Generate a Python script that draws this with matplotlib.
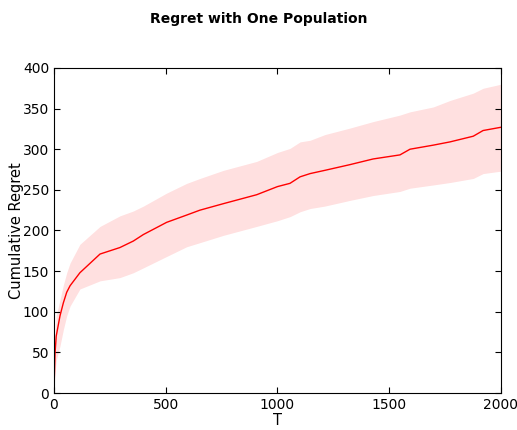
import matplotlib
matplotlib.use('Agg')
import matplotlib.pyplot as plt

# values
T = [0, 5, 10, 27, 42, 57, 72, 116, 206, 295, 355, 400, 504, 594, 653, 758, 907,
     1000, 1056, 1101, 1146, 1212, 1324, 1428, 1548, 1593, 1697, 1772, 1876, 1920, 2000]
regret_mean = [5, 50, 70, 95, 111, 124, 132, 148, 171, 179, 187, 195, 210, 219, 225, 233, 244,
               254, 258, 266, 270, 274, 281, 288, 293, 300, 305, 309, 316, 323, 327]
regret_low = [3, 25, 40, 58, 78, 95, 107, 128, 138, 142, 148, 154, 168, 180, 185, 194, 205,
              212, 217, 223, 227, 230, 237, 243, 248, 252, 256, 259, 264, 270, 273]
regret_high = [8, 70, 95, 115, 133, 148, 160, 183, 205, 218, 224, 230, 246, 258, 264, 274, 285,
               296, 301, 309, 311, 318, 326, 334, 342, 346, 352, 360, 369, 375, 380]

plt.figure(figsize=(5.17, 4.3), dpi=100)
ax = plt.axes([0.1044, 0.086, 0.8646, 0.756])
ax.fill_between(T, regret_low, regret_high, color='#ff0000', alpha=0.12, linewidth=0)
ax.plot(T, regret_mean, color='red', linewidth=1)

ax.set_xlim(0, 2000)
ax.set_ylim(0, 400)
ax.set_xticks([0, 500, 1000, 1500, 2000])
ax.set_yticks(range(0, 401, 50))
ax.tick_params(direction='in', top=True, right=True, length=4, labelsize=10)
ax.set_xlabel('T', fontsize=10.5, labelpad=1)
ax.set_ylabel('Cumulative Regret', fontsize=10.5, labelpad=-1)
plt.figtext(0.5, 0.955, 'Regret with One Population', ha='center', va='center',
            fontsize=10, fontweight='bold')

plt.savefig('out.png', dpi=100)
